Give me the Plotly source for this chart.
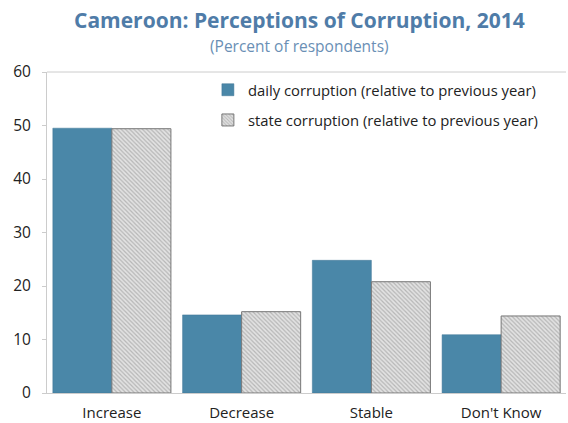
import plotly.graph_objects as go

categories = ["Increase", "Decrease", "Stable", "Don't Know"]
daily_corruption = [49.5, 14.6, 24.8, 10.9]
state_corruption = [49.4, 15.2, 20.8, 14.4]

fig = go.Figure()
fig.add_trace(go.Bar(
    x=categories, y=daily_corruption,
    name="daily corruption (relative to previous year)",
    legendgroup="daily",
    marker=dict(color="#4a87a8", line=dict(color="#3f7595", width=0.5)),
))
fig.add_trace(go.Bar(
    x=categories, y=state_corruption,
    name="state corruption (relative to previous year)",
    legendgroup="state",
    marker=dict(
        color="#e0e0e0",
        line=dict(color="#777777", width=1),
        pattern=dict(shape="\\", fgcolor="#8a8a8a", bgcolor="#e2e2e2",
                     size=3, solidity=0.4),
    ),
))

LEFT, RIGHT, TOP, BOTTOM = 47, 2, 72, 30
W, H = 568, 423
plot_w = W - LEFT - RIGHT
plot_h = H - TOP - BOTTOM


def px_to_paper(px, py):
    return (px - LEFT) / plot_w, (H - BOTTOM - py) / plot_h


tx, ty = px_to_paper(299, 20)
sx, sy = px_to_paper(299, 46)

fig.update_layout(
    width=W, height=H,
    margin=dict(l=LEFT, r=RIGHT, t=TOP, b=BOTTOM, autoexpand=False),
    paper_bgcolor="white", plot_bgcolor="white",
    barmode="group", bargap=0.09, bargroupgap=0,
    font=dict(family="Open Sans, sans-serif", size=15, color="#222222"),
    legend=dict(
        x=0.31, y=0.995, xanchor="left", yanchor="top",
        bgcolor="rgba(0,0,0,0)", font=dict(size=14.8, color="#222222"),
        traceorder="grouped", tracegroupgap=8,
    ),
    showlegend=True,
    annotations=[
        dict(text="<b>Cameroon: Perceptions of Corruption, 2014</b>",
             x=tx, y=ty, xref="paper", yref="paper", showarrow=False,
             xanchor="center", yanchor="middle",
             font=dict(size=21, color="#4f7ca8")),
        dict(text="(Percent of respondents)",
             x=sx, y=sy, xref="paper", yref="paper", showarrow=False,
             xanchor="center", yanchor="middle",
             font=dict(size=15.5, color="#6a8fb5")),
    ],
    shapes=[
        dict(type="line", xref="paper", yref="paper", x0=0, x1=1, y0=1, y1=1,
             line=dict(color="#cccccc", width=1)),
    ],
)

fig.update_xaxes(
    automargin=False,
    showline=True, linecolor="#cccccc", linewidth=1,
    ticks="", ticklabelstandoff=6, tickfont=dict(size=15, color="#222222"),
)
fig.update_yaxes(
    automargin=False,
    range=[0, 60], dtick=10, showgrid=False,
    showline=True, linecolor="#cccccc", linewidth=1,
    ticks="outside", ticklen=4, tickcolor="#cccccc", ticklabelstandoff=8,
    tickfont=dict(size=15.5, color="#222222"), zeroline=False,
)

fig.write_html("out.html")
